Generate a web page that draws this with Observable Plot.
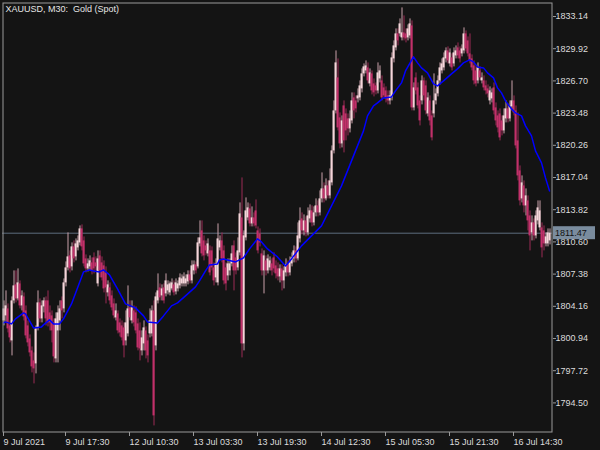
<!DOCTYPE html>
<html><head><meta charset="utf-8">
<script src="https://cdn.jsdelivr.net/npm/d3@7"></script>
<script src="https://cdn.jsdelivr.net/npm/@observablehq/plot@0.6"></script>
<style>
html,body{margin:0;padding:0;background:#141414;}
#chart{width:600px;height:450px;overflow:hidden;}
</style></head><body><div id="chart"></div>
<script>
const title = "XAUUSD, M30:  Gold (Spot)";

const opens = [
1802.7,1803.2,1803.9,1802.2,1800.7,1804.7,1806.3,1804.9,1806.4,1804.2,
1805.1,1803.7,1802.2,1800.9,1799.7,1798.7,1798.4,1802.0,1804.5,1802.9,
1804.1,1804.7,1804.7,1803.5,1803.2,1802.5,1798.9,1801.7,1802.7,1804.7,
1803.9,1806.5,1808.0,1809.2,1808.1,1810.1,1809.1,1810.0,1810.5,1811.9,
1810.7,1808.9,1807.9,1808.1,1808.5,1809.0,1808.5,1806.4,1809.2,1808.5,
1808.2,1807.5,1805.5,1806.0,1805.2,1804.4,1803.0,1803.4,1802.5,1802.2,
1802.0,1800.7,1801.4,1804.0,1802.7,1803.7,1803.5,1802.4,1801.7,1799.7,
1800.4,1801.7,1800.7,1801.4,1801.4,1803.7,1800.2,1804.7,1806.0,1805.2,
1806.0,1805.4,1805.7,1805.5,1805.9,1806.3,1805.6,1805.9,1806.2,1806.4,
1806.4,1806.4,1806.6,1807.3,1806.7,1807.7,1808.3,1808.1,1810.4,1811.7,
1810.7,1810.2,1809.4,1809.7,1809.7,1808.0,1807.0,1806.5,1810.0,1810.7,
1809.7,1808.0,1807.2,1807.7,1808.4,1810.2,1809.0,1808.0,1809.5,1813.0,
1800.4,1811.0,1813.0,1813.9,1812.4,1813.0,1813.7,1811.7,1811.4,1809.4,
1807.7,1808.7,1807.7,1808.0,1808.4,1809.0,1808.2,1807.9,1807.1,1807.9,
1806.7,1807.5,1808.3,1807.5,1808.4,1808.9,1809.7,1808.9,1810.9,1812.9,
1811.7,1812.7,1811.5,1812.9,1813.7,1812.5,1813.5,1814.2,1813.5,1814.9,
1815.9,1814.9,1816.2,1815.2,1816.5,1819.7,1823.7,1827.0,1823.0,1820.4,
1824.2,1823.4,1822.9,1821.9,1822.7,1825.0,1824.7,1824.9,1825.0,1825.9,
1827.4,1827.7,1828.0,1826.4,1827.4,1826.4,1826.2,1825.7,1826.9,1826.7,
1826.0,1825.7,1825.2,1824.7,1825.0,1828.9,1830.0,1831.4,1831.4,1831.0,
1831.5,1831.4,1831.0,1831.2,1832.2,1824.0,1827.0,1826.0,1824.7,1824.7,
1826.7,1826.2,1823.4,1824.7,1823.2,1823.4,1824.7,1825.4,1826.7,1827.7,
1828.0,1828.9,1829.7,1828.4,1829.0,1828.4,1829.2,1830.0,1829.7,1829.4,
1829.7,1831.4,1830.7,1829.4,1828.9,1828.2,1827.7,1826.7,1827.7,1826.7,
1826.7,1826.2,1825.9,1824.7,1824.9,1826.0,1824.0,1823.2,1823.4,1822.7,
1821.7,1822.9,1823.9,1822.9,1824.1,1824.7,1823.7,1820.7,1817.7,1814.9,
1816.2,1814.2,1814.7,1813.2,1811.5,1812.5,1811.2,1812.7,1812.0,1812.0,
1811.7,1810.4,1810.4,1810.7];

const highs = [
1804.7,1805.7,1804.4,1802.7,1805.1,1807.7,1807.7,1807.9,1806.7,1805.7,
1805.5,1804.2,1802.7,1801.3,1800.1,1799.5,1802.2,1805.7,1804.9,1804.7,
1805.0,1805.1,1805.7,1804.2,1803.7,1802.9,1803.5,1804.2,1804.7,1805.1,
1806.9,1808.6,1811.5,1809.7,1810.5,1810.7,1810.9,1811.2,1812.2,1812.3,
1811.1,1809.3,1808.9,1809.2,1809.0,1809.5,1809.1,1809.7,1809.7,1809.1,
1808.7,1808.1,1806.7,1806.5,1805.7,1804.9,1804.4,1803.7,1802.9,1802.7,
1802.5,1803.7,1806.2,1804.7,1804.7,1804.2,1804.1,1802.9,1802.5,1801.7,
1802.7,1802.1,1801.3,1803.9,1804.2,1804.7,1805.5,1807.4,1806.4,1806.3,
1806.4,1807.4,1806.7,1806.6,1806.9,1806.7,1806.9,1806.7,1807.4,1807.3,
1807.5,1807.3,1807.7,1807.7,1808.7,1808.7,1808.6,1811.0,1812.7,1812.7,
1811.2,1810.7,1810.9,1810.2,1810.1,1808.5,1808.9,1812.4,1811.2,1811.5,
1810.2,1808.5,1808.9,1808.9,1810.2,1810.7,1809.5,1811.0,1814.5,1817.0,
1811.7,1815.0,1814.5,1814.4,1814.1,1813.5,1814.8,1812.1,1811.9,1809.9,
1809.7,1809.2,1809.3,1809.1,1808.9,1809.5,1808.7,1808.5,1808.3,1808.3,
1808.1,1808.9,1808.7,1809.1,1809.5,1810.2,1810.1,1812.5,1814.0,1813.5,
1813.3,1813.1,1814.0,1814.3,1814.2,1814.1,1814.9,1814.7,1815.7,1817.5,
1816.5,1816.9,1816.7,1817.9,1820.2,1824.7,1829.7,1828.9,1823.5,1823.2,
1824.7,1823.9,1823.4,1823.7,1825.5,1825.5,1825.2,1825.9,1826.7,1827.9,
1828.4,1828.7,1828.5,1827.9,1827.7,1826.9,1826.5,1828.5,1828.2,1827.2,
1826.4,1826.1,1825.7,1825.7,1829.5,1830.7,1831.9,1831.9,1832.9,1834.0,
1833.2,1831.9,1832.3,1832.9,1832.7,1826.5,1827.5,1826.5,1825.2,1827.2,
1827.0,1826.7,1825.5,1825.2,1823.7,1827.4,1825.9,1827.2,1828.5,1828.9,
1829.5,1830.0,1830.1,1829.9,1829.4,1830.0,1830.2,1830.5,1830.1,1830.3,
1832.0,1831.7,1831.1,1831.4,1829.3,1828.7,1828.2,1828.5,1828.1,1827.5,
1827.2,1826.7,1826.3,1826.1,1825.9,1826.5,1824.5,1823.7,1823.9,1823.2,
1823.9,1824.7,1824.4,1824.7,1826.7,1825.2,1824.2,1823.5,1818.2,1817.2,
1816.7,1815.9,1815.2,1813.7,1813.2,1812.9,1813.7,1814.7,1814.7,1812.5,
1812.2,1811.5,1811.9,1811.9];

const lows = [
1802.2,1802.5,1801.5,1800.5,1799.2,1804.4,1804.5,1804.7,1803.9,1803.7,
1802.7,1800.9,1800.1,1799.1,1797.5,1796.4,1797.4,1801.7,1802.5,1802.5,
1803.5,1802.2,1802.1,1801.7,1800.5,1798.5,1798.5,1798.5,1801.7,1802.9,
1803.5,1806.1,1807.7,1807.5,1807.7,1808.5,1808.7,1809.7,1810.2,1809.7,
1808.1,1807.5,1807.6,1807.7,1807.3,1807.4,1807.7,1806.1,1807.0,1806.7,
1805.5,1804.4,1805.1,1804.3,1803.7,1802.9,1802.7,1801.4,1801.1,1800.7,
1799.0,1800.2,1801.1,1802.7,1802.4,1802.1,1801.4,1799.7,1798.7,1799.2,
1799.7,1798.9,1798.5,1801.0,1801.1,1792.2,1799.7,1804.4,1804.7,1804.7,
1804.4,1805.1,1805.3,1805.2,1805.7,1805.2,1805.3,1805.6,1805.9,1806.1,
1806.1,1806.1,1806.3,1806.4,1806.4,1807.3,1807.4,1807.9,1810.1,1809.1,
1808.7,1809.2,1809.1,1807.2,1807.7,1806.2,1806.5,1806.2,1809.7,1808.5,
1806.3,1805.7,1806.7,1807.2,1808.1,1805.7,1807.3,1807.7,1809.2,1799.0,
1799.7,1810.7,1812.7,1812.1,1812.1,1812.1,1811.9,1809.4,1810.1,1807.2,
1805.4,1807.2,1807.4,1807.7,1807.2,1807.5,1806.9,1806.7,1806.5,1805.7,
1805.9,1807.1,1807.1,1807.2,1808.1,1808.5,1808.5,1808.7,1810.5,1811.3,
1811.2,1811.1,1811.2,1812.5,1812.1,1812.2,1813.1,1813.1,1813.2,1814.5,
1814.5,1814.7,1814.9,1814.9,1816.2,1819.4,1823.4,1821.7,1819.9,1820.0,
1819.5,1820.7,1821.2,1821.5,1822.4,1822.9,1823.5,1824.5,1824.7,1825.5,
1827.1,1827.4,1826.4,1826.1,1825.3,1825.1,1825.3,1825.4,1826.5,1824.7,
1824.9,1824.5,1824.3,1824.3,1824.7,1828.5,1829.7,1830.2,1831.1,1830.7,
1830.7,1830.5,1830.7,1830.9,1823.7,1823.7,1825.3,1823.9,1822.2,1824.3,
1824.7,1823.3,1823.1,1822.2,1820.7,1823.0,1824.3,1825.1,1826.3,1827.4,
1827.7,1828.5,1828.4,1828.1,1827.7,1828.1,1828.9,1828.9,1828.5,1829.1,
1829.4,1829.6,1829.1,1828.4,1827.7,1826.3,1826.1,1826.4,1826.7,1826.4,
1825.7,1825.3,1825.0,1824.3,1824.5,1823.3,1822.2,1821.5,1820.7,1821.2,
1821.4,1822.5,1822.5,1822.6,1823.7,1823.2,1819.9,1816.7,1814.2,1814.5,
1813.5,1813.2,1811.7,1809.7,1810.7,1810.7,1810.9,1812.3,1811.7,1809.0,
1809.7,1810.1,1810.1,1810.3];

const closes = [
1803.9,1804.2,1801.9,1801.0,1804.7,1806.2,1804.9,1806.5,1804.2,1805.2,
1803.1,1801.2,1800.5,1799.5,1798.1,1797.9,1801.9,1804.5,1802.9,1804.2,
1804.7,1802.9,1802.5,1802.5,1801.7,1799.1,1802.9,1803.5,1803.9,1803.7,
1806.5,1808.0,1809.1,1807.9,1810.1,1808.9,1810.4,1810.7,1811.9,1810.1,
1808.4,1807.9,1808.4,1808.7,1807.7,1807.9,1808.1,1808.9,1807.7,1807.0,
1805.9,1806.0,1806.3,1804.7,1804.0,1803.2,1803.7,1801.7,1801.5,1801.0,
1800.2,1802.5,1803.9,1803.0,1804.0,1802.5,1801.7,1800.0,1799.9,1801.0,
1802.0,1799.7,1799.2,1802.7,1803.7,1793.2,1805.1,1805.7,1805.0,1805.9,
1804.7,1806.7,1806.3,1806.4,1806.5,1805.5,1806.5,1806.4,1807.0,1806.9,
1807.1,1806.9,1807.3,1806.7,1808.2,1808.3,1807.7,1810.5,1811.0,1809.4,
1809.2,1809.7,1810.4,1807.5,1808.0,1806.7,1808.4,1810.9,1810.7,1808.9,
1806.7,1806.4,1808.4,1808.4,1809.4,1807.7,1807.7,1809.7,1813.4,1800.4,
1811.2,1813.7,1814.0,1812.4,1813.0,1812.4,1812.2,1809.7,1810.5,1807.7,
1809.2,1807.7,1808.9,1808.7,1807.7,1807.9,1807.4,1807.1,1807.9,1806.7,
1807.7,1808.3,1807.5,1808.5,1809.0,1809.7,1808.9,1811.2,1812.7,1811.7,
1812.7,1811.5,1813.2,1813.7,1812.5,1813.5,1814.2,1813.5,1814.9,1815.9,
1814.9,1816.2,1815.2,1816.7,1819.7,1823.7,1828.5,1822.0,1820.4,1822.7,
1820.7,1821.7,1821.9,1822.9,1824.7,1823.7,1823.9,1825.2,1826.2,1827.4,
1828.1,1828.2,1826.7,1827.5,1825.7,1825.5,1825.7,1827.5,1827.7,1825.0,
1825.2,1824.9,1824.7,1825.2,1829.0,1830.2,1831.4,1830.7,1832.4,1831.5,
1831.0,1830.9,1831.9,1832.4,1824.0,1826.0,1825.7,1824.2,1822.7,1826.7,
1825.2,1823.7,1825.0,1822.7,1821.0,1824.7,1825.4,1826.7,1828.0,1828.4,
1829.0,1829.7,1828.7,1829.5,1828.0,1829.5,1829.7,1829.2,1828.9,1829.9,
1831.4,1829.9,1829.4,1828.7,1828.0,1826.7,1826.4,1828.0,1827.0,1827.0,
1826.0,1825.7,1825.4,1825.7,1825.5,1823.7,1822.7,1822.0,1821.0,1821.7,
1823.2,1823.9,1822.9,1824.2,1824.7,1823.5,1820.2,1817.2,1814.7,1816.5,
1814.2,1815.2,1812.7,1811.2,1812.5,1811.2,1813.2,1814.0,1813.7,1810.0,
1810.4,1811.1,1811.5,1811.47];

const maIndex = [0,1,4,6,10,11,15,19,20,23,25,28,30,34,37,40,43,45,48,50,
53,57,61,66,70,72,77,80,84,87,91,96,98,101,103,107,108,110,114,116,
120,123,127,129,132,137,141,144,149,154,159,164,169,174,176,180,182,185,187,190,
194,196,199,201,205,207,209,212,215,217,220,224,227,230,233,235,237,240,242,245,
247,249,251,254,256,259,261,264,266,269,271,273];
const maValue = [1802.5,1802.6,1802.4,1802.9,1803.5,1803.4,1802.0,1802.1,1802.3,1802.8,
1802.4,1802.4,1802.9,1804.4,1806.0,1807.6,1807.8,1807.7,1807.6,1807.8,
1807.3,1805.9,1804.4,1804.0,1803.2,1802.6,1802.5,1803.2,1804.2,1804.5,
1805.2,1806.1,1806.7,1807.7,1808.3,1808.4,1808.8,1808.9,1808.7,1808.6,
1809.0,1809.9,1810.9,1810.6,1809.9,1809.1,1808.2,1808.9,1810.2,1811.2,
1812.2,1814.2,1816.2,1818.7,1819.7,1821.7,1823.2,1824.2,1824.5,1825.0,
1825.1,1825.7,1826.5,1827.7,1829.1,1828.5,1828.0,1827.5,1826.4,1826.2,
1826.7,1827.4,1827.9,1828.5,1828.8,1828.6,1828.1,1828.0,1827.5,1827.0,
1826.0,1825.5,1824.7,1823.9,1823.5,1823.2,1822.2,1821.2,1819.7,1818.5,
1817.0,1815.7];

const timeTickIndex = [0,31,63,95,127,159,191,223,255];
const timeTickLabels = ["9 Jul 2021","9 Jul 17:30","12 Jul 10:30","13 Jul 03:30","13 Jul 19:30",
  "14 Jul 12:30","15 Jul 05:30","15 Jul 21:30","16 Jul 14:30"];
const priceTicks = [1833.14,1829.92,1826.70,1823.48,1820.26,1817.04,1813.82,
  1810.60,1807.38,1804.16,1800.94,1797.72,1794.50];
const lastPrice = 1811.47;

const bars = opens.map((o, i) => ({i, o, h: highs[i], l: lows[i], c: closes[i]}));
const up = bars.filter(d => d.c >= d.o);
const down = bars.filter(d => d.c < d.o);
const ma = maIndex.map((x, k) => ({x, y: maValue[k]}));
const font = "'Liberation Sans', Arial, sans-serif";

const chart = Plot.plot({
  width: 600, height: 450,
  marginLeft: 2, marginTop: 2, marginRight: 48, marginBottom: 18,
  style: {background: "#141414", color: "#dcdcdc", fontFamily: font, fontSize: "9px"},
  x: {type: "linear", domain: [0, 273], range: [3, 549], axis: null},
  y: {domain: [1791.54, 1834.54], axis: null},
  marks: [
    Plot.ruleY([lastPrice], {stroke: "#5d6d7e"}),
    Plot.ruleX(up, {x: "i", y1: "l", y2: "h", stroke: "#c9a1aa", dx: 0.5}),
    Plot.ruleX(down, {x: "i", y1: "l", y2: "h", stroke: "#9b2a55", dx: 0.5}),
    Plot.ruleX(up, {x: "i", y1: "o", y2: "c", stroke: "#f5d6da", strokeWidth: 2}),
    Plot.ruleX(down, {x: "i", y1: "o", y2: "c", stroke: "#c2306a", strokeWidth: 2}),
    Plot.line(ma, {x: "x", y: "y", stroke: "#0000ff", strokeWidth: 1.5}),
    Plot.frame({stroke: "#9a9a9a", inset: 0.5}),
    Plot.axisY(priceTicks, {anchor: "right", tickSize: 3, tickPadding: 0,
      tickFormat: d => d.toFixed(2), stroke: "#9a9a9a", fill: "#dcdcdc"}),
    Plot.axisX(timeTickIndex, {anchor: "bottom", tickSize: 4, tickPadding: 2,
      tickFormat: d => timeTickLabels[timeTickIndex.indexOf(d)], textAnchor: "start",
      stroke: "#9a9a9a", fill: "#dcdcdc"}),
    Plot.text([title], {frameAnchor: "top-left", dx: 3, dy: 3, lineAnchor: "top", fill: "#e6e6e6"})
  ]
});

// current price label box on the right axis
const svg = d3.select(chart);
const yp = chart.scale("y").apply(lastPrice);
const g = svg.append("g");
g.append("rect").attr("x", 553).attr("y", yp - 6.5).attr("width", 42).attr("height", 13)
  .attr("fill", "#7a8c9e");
g.append("text").attr("x", 555).attr("y", yp).attr("dy", "0.35em")
  .attr("text-anchor", "start")
  .attr("fill", "#111").attr("font-family", font).attr("font-size", 9)
  .text(lastPrice.toFixed(2));

document.getElementById("chart").appendChild(chart);
</script></body></html>
